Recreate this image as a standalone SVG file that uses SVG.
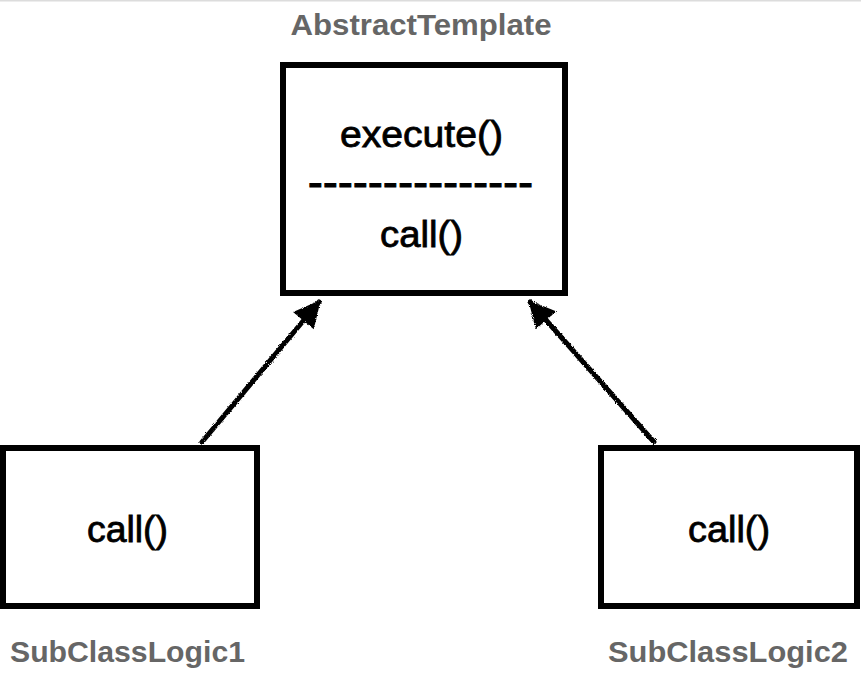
<svg xmlns="http://www.w3.org/2000/svg" width="861" height="674" viewBox="0 0 861 674">
  <style>
    .box { fill: #ffffff; stroke: #000000; stroke-width: 6; }
    .code { font-family: "Liberation Sans", Arial, sans-serif; font-size: 37px; fill: #000000; text-anchor: middle; stroke: #000; stroke-width: 0.8; }
    .dash { font-size: 44px; stroke-width: 1.2; }
    .label { font-family: "Liberation Sans", Arial, sans-serif; font-size: 29px; font-weight: bold; fill: #666666; text-anchor: middle; }
    .edge { stroke: #000000; stroke-width: 5; fill: none; stroke-linecap: round; }
  </style>
  <defs>
    <filter id="rough" x="-10%" y="-10%" width="120%" height="120%">
      <feTurbulence type="fractalNoise" baseFrequency="0.9" numOctaves="2" seed="3" result="n"/>
      <feDisplacementMap in="SourceGraphic" in2="n" scale="3" xChannelSelector="R" yChannelSelector="G"/>
    </filter>
    <marker id="arrow" viewBox="0 0 10 10" refX="9" refY="5" markerWidth="5.6" markerHeight="5.4" orient="auto" markerUnits="strokeWidth">
      <path d="M0,0 L10,5 L0,10 Z" fill="#000000"/>
    </marker>
  </defs>
  <rect x="0" y="0" width="861" height="1.5" fill="#dcdcdc"/>

  <g id="connectors" filter="url(#rough)">
    <line class="edge" x1="202" y1="442" x2="319" y2="302" marker-end="url(#arrow)"/>
    <line class="edge" x1="654" y1="442" x2="530" y2="302" marker-end="url(#arrow)"/>
  </g>

  <g id="AbstractTemplate">
    <text class="label" x="421" y="35" textLength="261" lengthAdjust="spacingAndGlyphs">AbstractTemplate</text>
    <rect class="box" x="283" y="65" width="282" height="228"/>
    <text class="code" x="421.5" y="147" textLength="163" lengthAdjust="spacingAndGlyphs">execute()</text>
    <text class="code dash" x="420.5" y="197" textLength="225" lengthAdjust="spacing">---------------</text>
    <text class="code" x="421.5" y="247" textLength="83" lengthAdjust="spacingAndGlyphs">call()</text>
  </g>

  <g id="SubClassLogic1">
    <rect class="box" x="3" y="448" width="254" height="158"/>
    <text class="code" x="127.5" y="542" textLength="81" lengthAdjust="spacingAndGlyphs">call()</text>
    <text class="label" x="127.5" y="662" textLength="235" lengthAdjust="spacingAndGlyphs">SubClassLogic1</text>
  </g>

  <g id="SubClassLogic2">
    <rect class="box" x="601" y="448" width="256" height="158"/>
    <text class="code" x="729" y="542" textLength="82" lengthAdjust="spacingAndGlyphs">call()</text>
    <text class="label" x="728" y="662" textLength="240" lengthAdjust="spacingAndGlyphs">SubClassLogic2</text>
  </g>
</svg>
